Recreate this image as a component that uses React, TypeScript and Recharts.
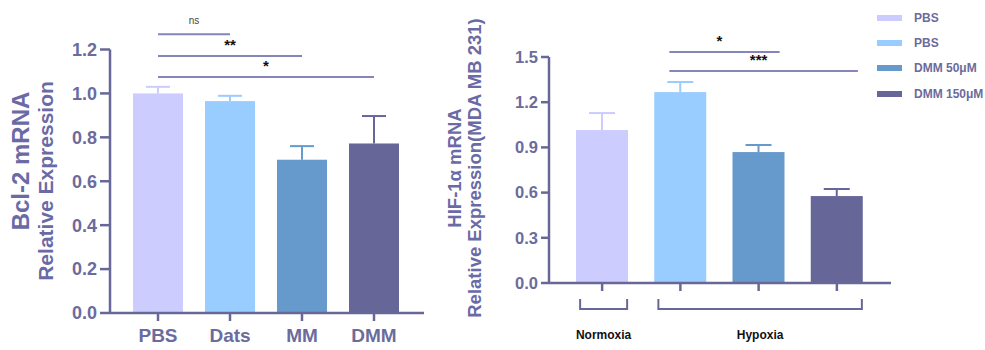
import { BarChart, Bar, XAxis, YAxis, ReferenceLine, Legend } from 'recharts'

// Bcl-2 panel
const bclCategories = ['PBS', 'Dats', 'MM', 'DMM']
const bclMeans = [1.0, 0.965, 0.698, 0.772]
const bclErrors = [0.03, 0.024, 0.062, 0.125]
const bclTicks = [0, 0.2, 0.4, 0.6, 0.8, 1.0, 1.2]
const bclComparisons = [
  { from: 'PBS', to: 'Dats', level: 1.27, mark: 'ns' },
  { from: 'PBS', to: 'MM', level: 1.17, mark: '**' },
  { from: 'PBS', to: 'DMM', level: 1.075, mark: '*' },
]

// HIF-1α panel
const hifCategories = ['PBS-N', 'PBS-H', 'DMM50', 'DMM150']
const hifLegendLabels = ['PBS', 'PBS', 'DMM 50μM', 'DMM 150μM']
const hifMeans = [1.015, 1.267, 0.869, 0.577]
const hifErrors = [0.113, 0.067, 0.047, 0.047]
const hifTicks = [0, 0.3, 0.6, 0.9, 1.2, 1.5]
const hifComparisons = [
  { from: 'PBS-H', to: 'DMM50', level: 1.533, mark: '*' },
  { from: 'PBS-H', to: 'DMM150', level: 1.407, mark: '***' },
]
const hifGroups = [
  { label: 'Normoxia', first: 0, last: 0 },
  { label: 'Hypoxia', first: 1, last: 3 },
]

const barColors = ['#ccccff', '#99ccff', '#6699cc', '#666699']
const AXIS = '#686898'
const TICK_TEXT = '#6b6b9d'
const TITLE = '#6a6aa6'
const SIG = '#8585ba'
const FONT = '"Liberation Sans", Arial, sans-serif'
const HIF_STEP = 78.25

const bclData = bclCategories.map((name, i) => ({ name, mean: bclMeans[i], err: bclErrors[i] }))
const hifData = hifCategories.map((name, i) => ({ name, mean: hifMeans[i], err: hifErrors[i] }))

const makeBarShape = (categories: string[], capHalf: number) => (props: any) => {
  const { x, y, width, height, payload } = props
  const i = categories.indexOf(payload.name)
  const color = barColors[i]
  const perUnit = payload.mean ? height / payload.mean : 0
  const top = y - payload.err * perUnit
  const cx = x + width / 2
  return (
    <g>
      <rect x={x} y={y} width={width} height={height} fill={color} />
      <line x1={cx} x2={cx} y1={y} y2={top} stroke={color} strokeWidth={2} />
      <line x1={cx - capHalf} x2={cx + capHalf} y1={top} y2={top} stroke={color} strokeWidth={2} />
    </g>
  )
}

const BclTitle = () => (
  <g fill={TITLE} fontWeight="bold">
    <text transform="translate(29,161) rotate(-90)" textAnchor="middle" fontSize={24}>Bcl-2 mRNA</text>
    <text transform="translate(53,181) rotate(-90)" textAnchor="middle" fontSize={21}>Relative Expression</text>
  </g>
)

const HifTitle = () => (
  <g fill={TITLE} fontWeight="bold" fontSize={18.5}>
    <text transform="translate(31,168) rotate(-90)" textAnchor="middle">HIF-1α mRNA</text>
    <text transform="translate(51,168) rotate(-90)" textAnchor="middle">Relative Expression(MDA MB 231)</text>
  </g>
)

const HifTick = (props: any) => {
  const { x, y, index } = props
  const group = hifGroups.find(g => g.first === index)
  if (!group) return null
  const left = x - 22
  const right = x + (group.last - group.first) * HIF_STEP + 25
  const by = y + 18
  return (
    <g>
      <path d={`M${left},${by - 10} L${left},${by} L${right},${by} L${right},${by - 10}`} fill="none" stroke={AXIS} strokeWidth={2} />
      <text x={(left + right) / 2} y={by + 30} textAnchor="middle" fontSize={12} fontWeight="bold" fill="#111">
        {group.label}
      </text>
    </g>
  )
}

const SigLine = (props: any) => {
  const { x1, y1, x2, y2 } = props
  return <line x1={x1 - 11} y1={y1} x2={x2 + 21} y2={y2} stroke={SIG} strokeWidth={2} />
}

const HifLegend = () => (
  <div style={{ fontFamily: FONT }}>
    {hifLegendLabels.map((label, i) => (
      <div key={i} style={{ display: 'flex', alignItems: 'center', height: 25.3 }}>
        <div style={{ width: 25, height: 6, background: barColors[i], marginRight: 12 }} />
        <span style={{ fontSize: 12, fontWeight: 'bold', color: TICK_TEXT, whiteSpace: 'nowrap' }}>{label}</span>
      </div>
    ))}
  </div>
)

export default function App() {
  return (
    <div style={{ position: 'absolute', left: 0, top: 0, width: 985, height: 350, background: '#fff', fontFamily: FONT, overflow: 'hidden' }}>
      <div style={{ position: 'absolute', left: 0, top: 0 }}>
        <BarChart width={430} height={350} data={bclData} margin={{ top: 49.5, right: 6, bottom: 0, left: 0 }}>
          <XAxis
            dataKey="name"
            height={37}
            padding={{ left: 12, right: 14 }}
            interval={0}
            axisLine={{ stroke: AXIS, strokeWidth: 2.5 }}
            tickLine={{ stroke: AXIS, strokeWidth: 2.5 }}
            tickSize={8}
            tickMargin={8}
            tick={{ fill: TICK_TEXT, fontSize: 19, fontWeight: 'bold' }}
          />
          <YAxis
            width={110}
            domain={[0, 1.2]}
            ticks={bclTicks}
            tickFormatter={(v: number) => v.toFixed(1)}
            axisLine={{ stroke: AXIS, strokeWidth: 2.5 }}
            tickLine={{ stroke: AXIS, strokeWidth: 2.5 }}
            tickSize={10}
            tickMargin={3}
            tick={{ fill: TICK_TEXT, fontSize: 18, fontWeight: 'bold' }}
            label={{ content: () => <BclTitle /> }}
          />
          <Bar dataKey="mean" barSize={50} isAnimationActive={false} shape={makeBarShape(bclCategories, 12)} />
          {bclComparisons.map(c => (
            <ReferenceLine
              key={c.mark}
              segment={[{ x: c.from, y: c.level }, { x: c.to, y: c.level }]}
              ifOverflow="visible"
              stroke={SIG}
              strokeWidth={2}
              label={{
                value: c.mark,
                position: 'top',
                offset: c.mark === 'ns' ? 10 : 6,
                fill: c.mark === 'ns' ? '#444' : '#111',
                fontSize: c.mark === 'ns' ? 10 : 15,
                fontWeight: c.mark === 'ns' ? 'normal' : 'bold',
              }}
            />
          ))}
        </BarChart>
      </div>
      <div style={{ position: 'absolute', left: 430, top: 0 }}>
        <BarChart width={555} height={350} data={hifData} margin={{ top: 57, right: 94, bottom: 0, left: 0 }}>
          <XAxis
            dataKey="name"
            height={67}
            padding={{ left: 14, right: 15 }}
            interval={0}
            axisLine={{ stroke: AXIS, strokeWidth: 2.5 }}
            tickLine={{ stroke: AXIS, strokeWidth: 2.5 }}
            tickSize={8}
            tickMargin={0}
            tick={<HifTick />}
          />
          <YAxis
            width={119}
            domain={[0, 1.5]}
            ticks={hifTicks}
            tickFormatter={(v: number) => v.toFixed(1)}
            axisLine={{ stroke: AXIS, strokeWidth: 2.5 }}
            tickLine={{ stroke: AXIS, strokeWidth: 2.5 }}
            tickSize={8}
            tickMargin={3}
            tick={{ fill: TICK_TEXT, fontSize: 16.5, fontWeight: 'bold' }}
            label={{ content: () => <HifTitle /> }}
          />
          <Bar dataKey="mean" barSize={52} isAnimationActive={false} shape={makeBarShape(hifCategories, 13)} />
          {hifComparisons.map(c => (
            <ReferenceLine
              key={c.mark}
              segment={[{ x: c.from, y: c.level }, { x: c.to, y: c.level }]}
              ifOverflow="visible"
              shape={SigLine}
              label={{ value: c.mark, position: 'top', offset: 6, fill: '#111', fontSize: 15, fontWeight: 'bold' }}
            />
          ))}
          <Legend
            layout="vertical"
            align="center"
            verticalAlign="middle"
            wrapperStyle={{ left: 447, top: 5, width: 'auto' }}
            content={() => <HifLegend />}
          />
        </BarChart>
      </div>
    </div>
  )
}
